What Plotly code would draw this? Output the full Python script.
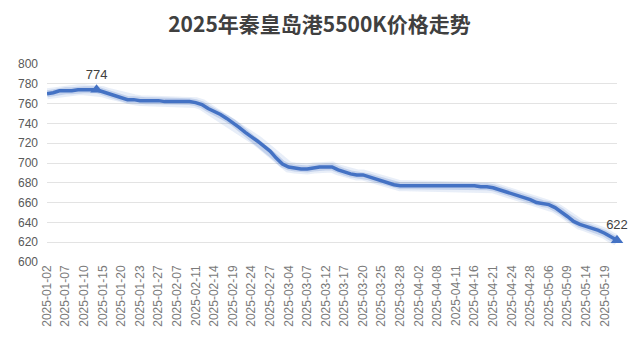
import plotly.graph_objects as go

title = "2025年秦皇岛港5500K价格走势"

dates = [
    "2025-01-02", "2025-01-03", "2025-01-06", "2025-01-07", "2025-01-08", "2025-01-09", "2025-01-10",
    "2025-01-13", "2025-01-14", "2025-01-15", "2025-01-16", "2025-01-17", "2025-01-20", "2025-01-21",
    "2025-01-22", "2025-01-23", "2025-01-24", "2025-01-26", "2025-01-27",
    "2025-02-05", "2025-02-06", "2025-02-07", "2025-02-08", "2025-02-10", "2025-02-11", "2025-02-12",
    "2025-02-13", "2025-02-14", "2025-02-17", "2025-02-18", "2025-02-19", "2025-02-20", "2025-02-21",
    "2025-02-24", "2025-02-25", "2025-02-26", "2025-02-27", "2025-02-28",
    "2025-03-03", "2025-03-04", "2025-03-05", "2025-03-06", "2025-03-07", "2025-03-10", "2025-03-11",
    "2025-03-12", "2025-03-13", "2025-03-14", "2025-03-17", "2025-03-18", "2025-03-19", "2025-03-20",
    "2025-03-21", "2025-03-24", "2025-03-25", "2025-03-26", "2025-03-27", "2025-03-28", "2025-03-31",
    "2025-04-01", "2025-04-02", "2025-04-03", "2025-04-07", "2025-04-08", "2025-04-09", "2025-04-10",
    "2025-04-11", "2025-04-14", "2025-04-15", "2025-04-16", "2025-04-17", "2025-04-18", "2025-04-21",
    "2025-04-22", "2025-04-23", "2025-04-24", "2025-04-25", "2025-04-27", "2025-04-28", "2025-04-29",
    "2025-04-30", "2025-05-06", "2025-05-07", "2025-05-08", "2025-05-09", "2025-05-12", "2025-05-13",
    "2025-05-14", "2025-05-15", "2025-05-16", "2025-05-19", "2025-05-20", "2025-05-21",
]

prices = [
    770, 771, 773, 773, 773, 774, 774, 774, 774, 772, 770, 768, 766, 764, 764, 763, 763, 763, 763,
    762, 762, 762, 762, 762, 761, 759, 755, 752, 749, 745, 741, 736, 731, 727, 722, 717, 712, 705,
    699, 696, 695, 694, 694, 695, 696, 696, 696, 693, 691, 689, 688, 688, 686, 684, 682, 680, 678,
    677, 677, 677, 677, 677, 677, 677, 677, 677, 677, 677, 677, 677, 676, 676, 675, 673, 671, 669,
    667, 665, 663, 660, 659, 658, 655, 651, 646, 641, 638, 636, 634, 632, 629, 625, 622,
]

tick_labels = dates[::3]
y_ticks = [600, 620, 640, 660, 680, 700, 720, 740, 760, 780, 800]

line_color = "#4472C4"

imax = max(i for i, v in enumerate(prices) if v == max(prices))
mark_x = [dates[imax], dates[-1]]
mark_y = [prices[imax], prices[-1]]

fig = go.Figure()
# soft glow under the line
fig.add_trace(go.Scatter(x=dates, y=prices, mode="lines", cliponaxis=False,
                         line=dict(color="rgba(68,114,196,0.12)", width=11),
                         hoverinfo="skip", showlegend=False))
fig.add_trace(go.Scatter(x=dates, y=prices, mode="lines", cliponaxis=False,
                         line=dict(color="rgba(68,114,196,0.22)", width=7),
                         hoverinfo="skip", showlegend=False))
fig.add_trace(go.Scatter(x=dates, y=prices, mode="lines", cliponaxis=False,
                         line=dict(color=line_color, width=3.5),
                         showlegend=False))
fig.add_trace(go.Scatter(x=mark_x, y=mark_y, mode="markers+text", cliponaxis=False,
                         marker=dict(symbol="triangle-up", size=11, color=line_color),
                         text=[str(v) for v in mark_y], textposition="top center",
                         textfont=dict(size=13, color="#404040", family="Liberation Sans, Arial"),
                         showlegend=False))

fig.update_layout(
    width=639, height=353,
    margin=dict(l=47, r=22, t=64, b=91),
    paper_bgcolor="white", plot_bgcolor="white",
    title=dict(text="<b>" + title + "</b>", x=0.5, xanchor="center", y=0.93, yanchor="middle",
               font=dict(size=21, color="#404040", family="Noto Sans CJK SC")),
    showlegend=False,
)
fig.update_xaxes(type="category", categoryorder="array", categoryarray=dates,
                 range=[0, len(dates) - 1],
                 tickmode="array", tickvals=tick_labels, ticktext=tick_labels,
                 tickangle=-90, tickfont=dict(size=12, color="#7A7A7A", family="Liberation Sans, Arial"),
                 showgrid=False, showline=False, ticks="", zeroline=False)
fig.update_yaxes(range=[600, 800], tickmode="array", tickvals=y_ticks,
                 tickfont=dict(size=12, color="#595959", family="Liberation Sans, Arial"),
                 showgrid=True, gridcolor="#E3E3E3", gridwidth=1,
                 showline=False, zeroline=False, ticks="", ticklabelstandoff=8)

fig.write_html("out.html")
